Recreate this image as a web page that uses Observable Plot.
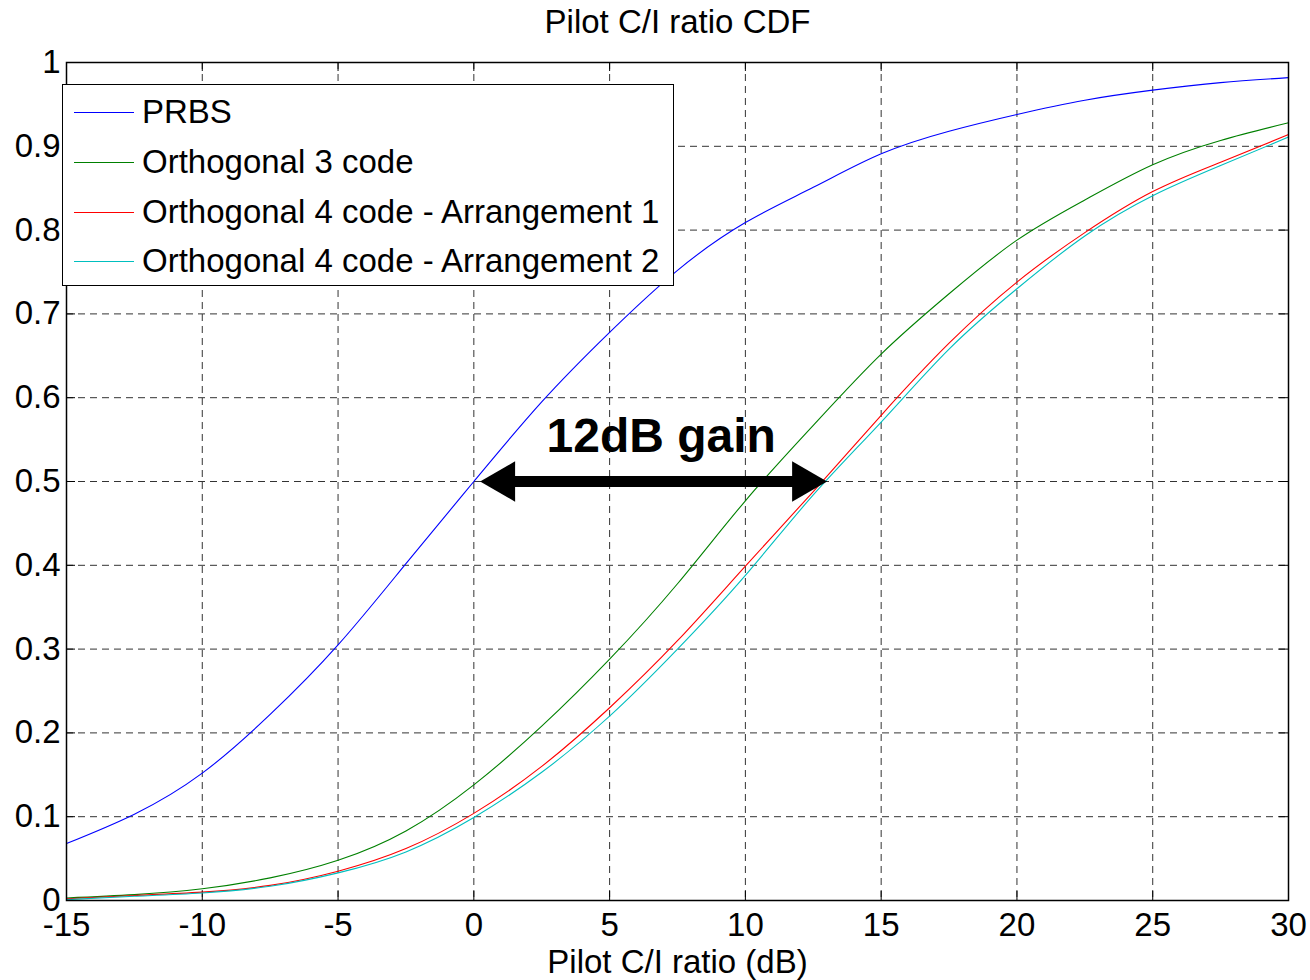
<!DOCTYPE html>
<html>
<head>
<meta charset="utf-8">
<script src="https://cdn.jsdelivr.net/npm/d3@7"></script>
<script src="https://cdn.jsdelivr.net/npm/@observablehq/plot@0.6"></script>
<style>
  html, body { margin: 0; padding: 0; background: #fff; }
  #wrap { position: relative; width: 1310px; height: 980px; font-family: "Liberation Sans", Arial, Helvetica, sans-serif; }
  #legend { position: absolute; left: 62px; top: 84px; width: 610px; height: 200px; border: 1.5px solid #000; background: #fff; }
  .row { position: absolute; left: 0; height: 40px; display: flex; align-items: center; font-size: 33px; color: #000; white-space: nowrap; }
  .sw { display: inline-block; width: 60px; height: 0; border-top: 1.3px solid; margin-left: 11px; margin-right: 8px; }
</style>
</head>
<body>
<div id="wrap"></div>
<script>
// ---- data ----
const titleText = "Pilot C/I ratio CDF";
const xLabel = "Pilot C/I ratio (dB)";
const xTicks = [-15, -10, -5, 0, 5, 10, 15, 20, 25, 30];
const yTicks = [0, 0.1, 0.2, 0.3, 0.4, 0.5, 0.6, 0.7, 0.8, 0.9, 1];
const seriesNames = ["PRBS", "Orthogonal 3 code", "Orthogonal 4 code - Arrangement 1", "Orthogonal 4 code - Arrangement 2"];
const seriesColors = ["#0000ff", "#008000", "#ff0000", "#00bfbf"];
const xs = [-15, -12.5, -10, -7.5, -5, -2.5, 0, 2.5, 5, 7.5, 10, 12.5, 15, 17.5, 20, 22.5, 25, 27.5, 30];
const prbs = [0.068, 0.103, 0.152, 0.222, 0.305, 0.402, 0.500, 0.595, 0.678, 0.752, 0.809, 0.851, 0.891, 0.918, 0.938, 0.955, 0.967, 0.976, 0.982];
const orth3 = [0.003, 0.007, 0.014, 0.027, 0.048, 0.083, 0.138, 0.208, 0.288, 0.378, 0.477, 0.567, 0.652, 0.724, 0.788, 0.836, 0.878, 0.907, 0.928];
const orth4a1 = [0.002, 0.006, 0.010, 0.018, 0.035, 0.062, 0.104, 0.160, 0.230, 0.310, 0.399, 0.488, 0.579, 0.665, 0.738, 0.797, 0.846, 0.881, 0.914];
const orth4a2 = [0.001, 0.005, 0.009, 0.017, 0.033, 0.058, 0.099, 0.153, 0.220, 0.300, 0.388, 0.484, 0.571, 0.658, 0.730, 0.793, 0.841, 0.877, 0.911];
const seriesValues = [prbs, orth3, orth4a1, orth4a2];
const gainLabel = "12dB gain";
const gainLabelPos = [6.9, 0.553];
const arrowX = [0.28, 12.96];
const arrowY = 0.5;

// ---- build ----
const rows = seriesNames.flatMap((name, i) => xs.map((x, j) => ({series: name, x, y: seriesValues[i][j]})));
const W = 1310, H = 980, mL = 66, mR = 22, mT = 62, mB = 80;
const fw = W - mL - mR, fh = H - mT - mB;
const tickLen = 9;
const font = '"Liberation Sans", Arial, Helvetica, sans-serif';

const chart = Plot.plot({
  width: W, height: H,
  marginLeft: mL, marginRight: mR, marginTop: mT, marginBottom: mB,
  style: {fontFamily: font, fontSize: "33px", color: "#000", background: "#fff"},
  x: {domain: [-15, 30]},
  y: {domain: [0, 1]},
  color: {domain: seriesNames, range: seriesColors},
  marks: [
    Plot.gridX(xTicks, {stroke: "#333", strokeOpacity: 1, strokeDasharray: "7,5", strokeWidth: 1}),
    Plot.gridY(yTicks, {stroke: "#333", strokeOpacity: 1, strokeDasharray: "7,5", strokeWidth: 1}),
    Plot.tickX(xTicks, {x: d => d, insetTop: fh - tickLen, stroke: "#000"}),
    Plot.tickX(xTicks, {x: d => d, insetBottom: fh - tickLen, stroke: "#000"}),
    Plot.tickY(yTicks, {y: d => d, insetRight: fw - tickLen, stroke: "#000"}),
    Plot.tickY(yTicks, {y: d => d, insetLeft: fw - tickLen, stroke: "#000"}),
    Plot.axisX(xTicks, {tickSize: 0, tickPadding: 12, label: null, fontSize: 33, tickFormat: d => String(d)}),
    Plot.axisY(yTicks, {tickSize: 0, tickPadding: 6, label: null, fontSize: 33, tickFormat: d => String(d)}),
    Plot.line(rows, {x: "x", y: "y", z: "series", stroke: "series", strokeWidth: 1.1, curve: "natural"}),
    Plot.ruleY([arrowY], {x1: arrowX[0], x2: arrowX[1], stroke: "#000", strokeWidth: 11, insetLeft: 26, insetRight: 26}),
    Plot.dot([arrowX[0]], {x: d => d, y: () => arrowY, symbol: "triangle", r: 15, fill: "#000", stroke: "none", rotate: -90, dx: 22}),
    Plot.dot([arrowX[1]], {x: d => d, y: () => arrowY, symbol: "triangle", r: 15, fill: "#000", stroke: "none", rotate: 90, dx: -22}),
    Plot.text([gainLabel], {x: () => gainLabelPos[0], y: () => gainLabelPos[1], fontSize: 48, fontWeight: "bold", fill: "#000"}),
    Plot.text([titleText], {frameAnchor: "top", lineAnchor: "middle", dy: -40, fontSize: 33, fill: "#000"}),
    Plot.text([xLabel], {frameAnchor: "bottom", lineAnchor: "middle", dy: 62, fontSize: 33, fill: "#000"}),
    Plot.frame({stroke: "#000", strokeWidth: 1.5})
  ]
});

const wrap = document.getElementById("wrap");
wrap.appendChild(chart);

// legend
const leg = document.createElement("div");
leg.id = "legend";
const rowTops = [7, 57, 107, 156];
seriesNames.forEach((name, i) => {
  const r = document.createElement("div");
  r.className = "row";
  r.style.top = rowTops[i] + "px";
  const sw = document.createElement("span");
  sw.className = "sw";
  sw.style.borderTopColor = seriesColors[i];
  const t = document.createElement("span");
  t.textContent = name;
  r.appendChild(sw);
  r.appendChild(t);
  leg.appendChild(r);
});
wrap.appendChild(leg);
</script>
</body>
</html>
